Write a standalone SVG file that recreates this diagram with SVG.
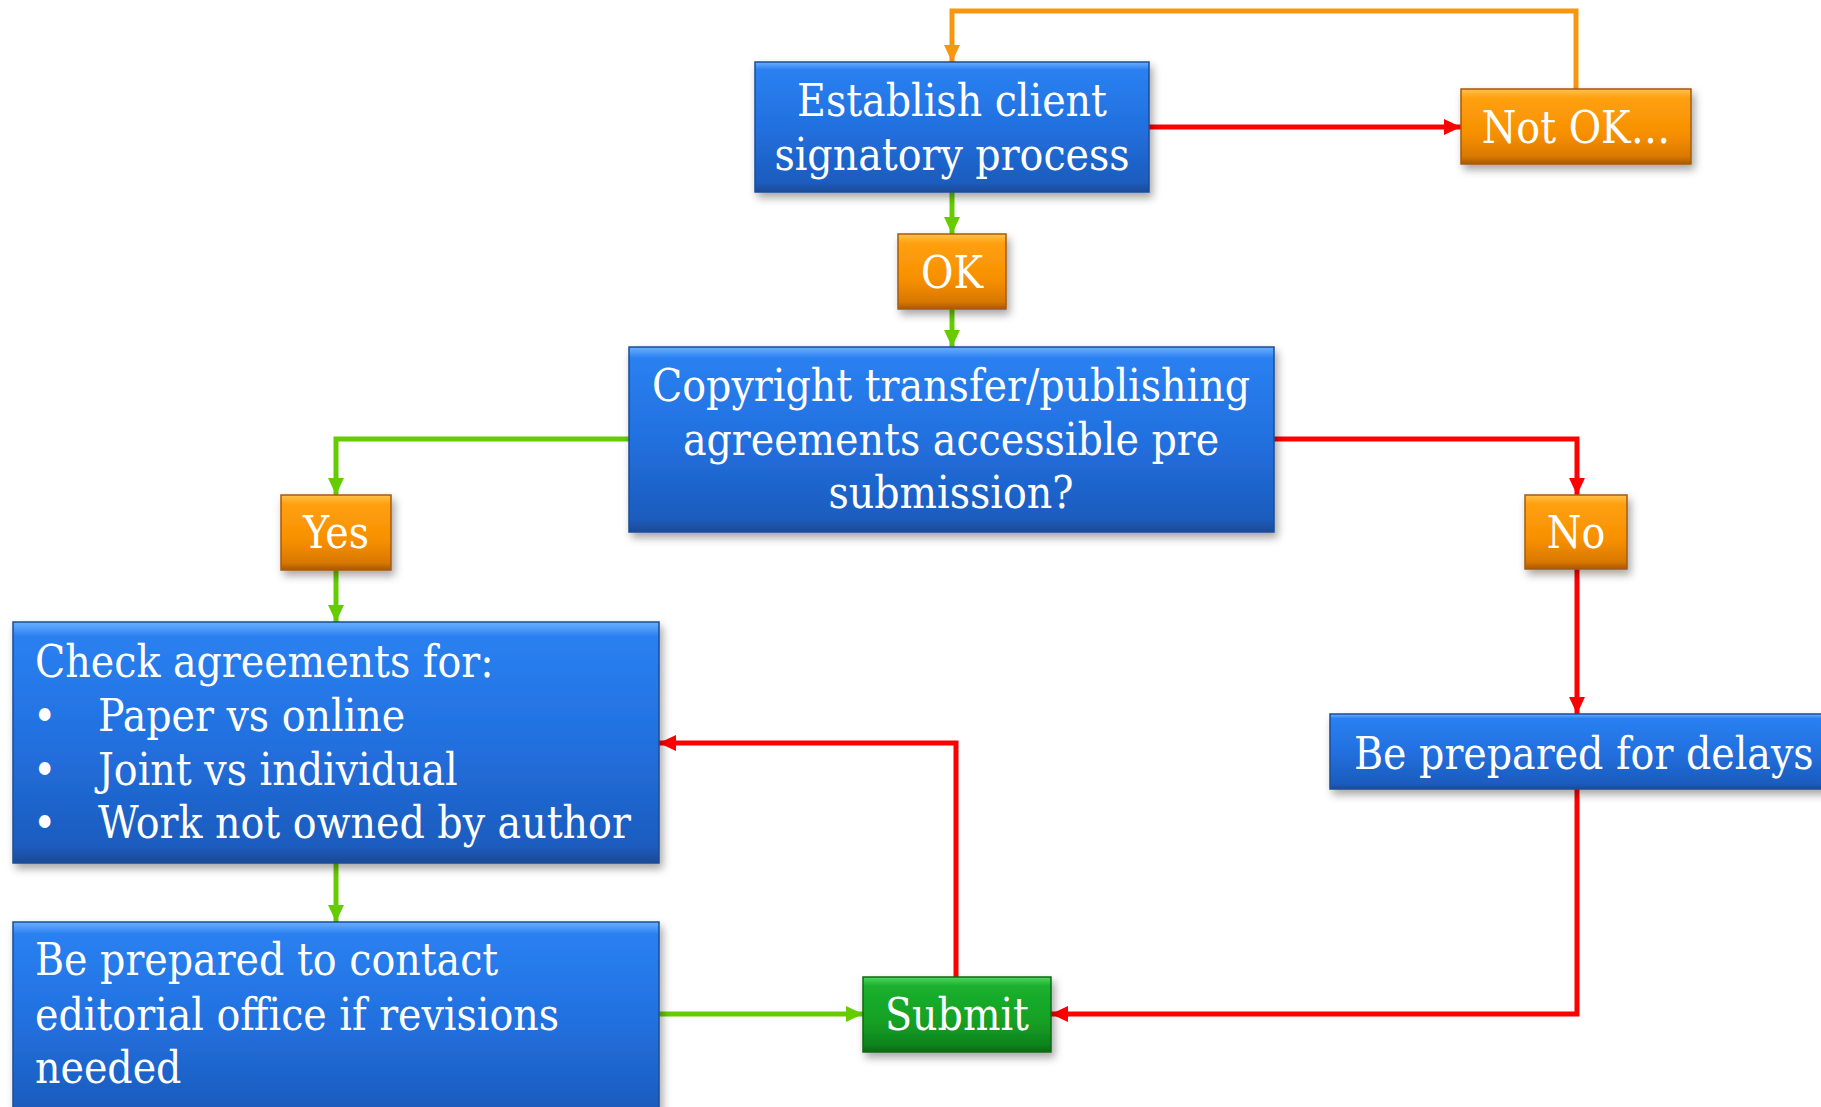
<svg xmlns="http://www.w3.org/2000/svg" width="1821" height="1107" viewBox="0 0 1821 1107">
  <defs>
    <linearGradient id="gBlue" x1="0" y1="0" x2="0" y2="1">
      <stop offset="0" stop-color="#6ab0ff"/>
      <stop offset="0.06" stop-color="#2a80f0"/>
      <stop offset="0.5" stop-color="#2270df"/>
      <stop offset="0.93" stop-color="#1c5cbe"/>
      <stop offset="1" stop-color="#1a4a94"/>
    </linearGradient>
    <linearGradient id="gOrange" x1="0" y1="0" x2="0" y2="1">
      <stop offset="0" stop-color="#ffc24a"/>
      <stop offset="0.12" stop-color="#ffa010"/>
      <stop offset="0.6" stop-color="#f79000"/>
      <stop offset="0.9" stop-color="#d97800"/>
      <stop offset="1" stop-color="#a85a00"/>
    </linearGradient>
    <linearGradient id="gGreen" x1="0" y1="0" x2="0" y2="1">
      <stop offset="0" stop-color="#4ed860"/>
      <stop offset="0.12" stop-color="#1bb02e"/>
      <stop offset="0.6" stop-color="#14a024"/>
      <stop offset="0.9" stop-color="#0f841c"/>
      <stop offset="1" stop-color="#0a6614"/>
    </linearGradient>
    <filter id="shadow" x="-10%" y="-10%" width="130%" height="140%">
      <feDropShadow dx="3" dy="5" stdDeviation="4" flood-color="#000" flood-opacity="0.35"/>
    </filter>
    <marker id="aRed" markerUnits="userSpaceOnUse" markerWidth="18" markerHeight="18" refX="17" refY="9" orient="auto">
      <path d="M0,1 L17,9 L0,17 z" fill="#ff0000"/>
    </marker>
    <marker id="aGreen" markerUnits="userSpaceOnUse" markerWidth="18" markerHeight="18" refX="17" refY="9" orient="auto">
      <path d="M0,1 L17,9 L0,17 z" fill="#66cc00"/>
    </marker>
    <marker id="aOrange" markerUnits="userSpaceOnUse" markerWidth="18" markerHeight="18" refX="17" refY="9" orient="auto">
      <path d="M0,1 L17,9 L0,17 z" fill="#f7960f"/>
    </marker>
  </defs>
  <style>
    .blue { fill: url(#gBlue); stroke: #1b4d98; stroke-width: 1.5; filter: url(#shadow); }
    .orange { fill: url(#gOrange); stroke: #a65a10; stroke-width: 1.5; filter: url(#shadow); }
    .green { fill: url(#gGreen); stroke: #0b6a16; stroke-width: 1.5; filter: url(#shadow); }
    text { font-family: "DejaVu Serif Condensed", "DejaVu Serif", "Liberation Serif", serif; font-stretch: condensed; font-size: 44px; fill: #ffffff; }
    .c { text-anchor: middle; }
    .red { stroke: #ff0000; stroke-width: 5; fill: none; marker-end: url(#aRed); }
    .grn { stroke: #66cc00; stroke-width: 5; fill: none; marker-end: url(#aGreen); }
    .org { stroke: #f7960f; stroke-width: 5; fill: none; marker-end: url(#aOrange); }
  </style>

  <rect width="1821" height="1107" fill="#ffffff"/>

  <!-- connectors -->
  <g id="connectors">
    <polyline class="org" points="1576,89 1576,11 952,11 952,62"/>
    <line class="red" x1="1149" y1="127" x2="1461" y2="127"/>
    <line class="grn" x1="952" y1="192" x2="952" y2="234"/>
    <line class="grn" x1="952" y1="309" x2="952" y2="347"/>
    <polyline class="grn" points="629,439 336,439 336,495"/>
    <polyline class="red" points="1274,439 1577,439 1577,495"/>
    <line class="grn" x1="336" y1="570" x2="336" y2="622"/>
    <line class="red" x1="1577" y1="569" x2="1577" y2="714"/>
    <polyline class="red" points="1577,789 1577,1014 1051,1014"/>
    <polyline class="red" points="956,977 956,743 659,743"/>
    <line class="grn" x1="336" y1="863" x2="336" y2="922"/>
    <line class="grn" x1="659" y1="1014" x2="863" y2="1014"/>
  </g>

  <g id="establish">
    <rect class="blue" x="755" y="62" width="394" height="130"/>
    <text class="c" x="952" y="116">Establish client</text>
    <text class="c" x="952" y="170">signatory process</text>
  </g>

  <g id="not-ok">
    <rect class="orange" x="1461" y="89" width="230" height="75"/>
    <text class="c" x="1576" y="143">Not OK…</text>
  </g>

  <g id="ok">
    <rect class="orange" x="898" y="234" width="108" height="75"/>
    <text class="c" x="952" y="288">OK</text>
  </g>

  <g id="copyright">
    <rect class="blue" x="629" y="347" width="645" height="185"/>
    <text class="c" x="951" y="401">Copyright transfer/publishing</text>
    <text class="c" x="951" y="455">agreements accessible pre</text>
    <text class="c" x="951" y="508">submission?</text>
  </g>

  <g id="yes">
    <rect class="orange" x="281" y="495" width="110" height="75"/>
    <text class="c" x="336" y="548">Yes</text>
  </g>

  <g id="no">
    <rect class="orange" x="1525" y="495" width="102" height="74"/>
    <text class="c" x="1576" y="548">No</text>
  </g>

  <g id="check">
    <rect class="blue" x="13" y="622" width="646" height="241"/>
    <text x="35" y="677">Check agreements for:</text>
    <text x="33" y="731">•</text>
    <text x="98" y="731">Paper vs online</text>
    <text x="33" y="785">•</text>
    <text x="98" y="785">Joint vs individual</text>
    <text x="33" y="838">•</text>
    <text x="98" y="838">Work not owned by author</text>
  </g>

  <g id="delays">
    <rect class="blue" x="1330" y="714" width="510" height="75"/>
    <text x="1354" y="769">Be prepared for delays</text>
  </g>

  <g id="contact">
    <rect class="blue" x="13" y="922" width="646" height="200"/>
    <text x="35" y="975">Be prepared to contact</text>
    <text x="35" y="1030">editorial office if revisions</text>
    <text x="35" y="1083">needed</text>
  </g>

  <g id="submit">
    <rect class="green" x="863" y="977" width="188" height="75"/>
    <text class="c" x="957" y="1030">Submit</text>
  </g>
</svg>
